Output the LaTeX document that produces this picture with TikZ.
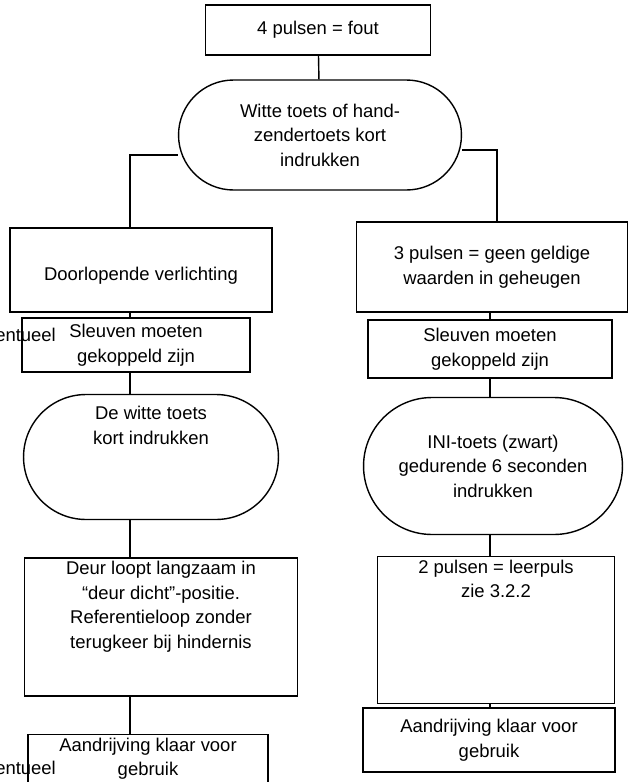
\documentclass[tikz,border=0pt]{standalone}
\usepackage{fontspec}
\setmainfont{Liberation Sans}
\usetikzlibrary{shapes.misc}
\begin{document}
\begin{tikzpicture}[x=0.02cm,y=-0.02cm,
  font=\fontsize{10.5}{14}\selectfont]
\tikzset{box/.style={rectangle, draw, thick, align=center, inner sep=2pt},
  pill/.style={rounded rectangle, draw, thick, align=center, inner sep=2pt},
  line/.style={draw, thick}}
\useasboundingbox (0,0) rectangle (642,782);
    % Place nodes
    \node [box, minimum width=4.5cm, minimum height=1cm] (fout) at (318,30) {4 pulsen = fout};
    \node [pill, minimum width=5.8cm, minimum height=2.2cm] (witte) at (320,135) {Witte toets of hand-\\zendertoets kort\\indrukken};
    \node [box, minimum width=5.24cm, minimum height=1.68cm] (verl) at (141,270) {\\Doorlopende verlichting};
    \node [box, minimum width=5.42cm, minimum height=1.8cm] (geen) at (492,267) {3 pulsen = geen geldige\\waarden in geheugen};
    \node [box, minimum width=4.56cm, minimum height=1.08cm] (sleufL) at (136,345) {Sleuven moeten\\gekoppeld zijn};
    \node [box, minimum width=4.88cm, minimum height=1.16cm] (sleufR) at (490,349) {Sleuven moeten\\gekoppeld zijn};
    \node [pill, minimum width=5.24cm, minimum height=2.5cm] (kortL) at (151,457) {De witte toets\\kort indrukken\\[4ex]};
    \node [pill, minimum width=5.32cm, minimum height=2.74cm] (ini) at (493,466) {INI-toets (zwart)\\gedurende 6 seconden\\indrukken};
    \node [box, minimum width=5.46cm, minimum height=2.5cm] (deur) at (161,627) {Deur loopt langzaam in\\``deur dicht''-positie.\\Referentieloop zonder\\terugkeer bij hindernis\\[2ex]};
    \node [box, minimum width=4.74cm, minimum height=2.48cm] (leer) at (496,630) {2 pulsen = leerpuls\\zie 3.2.2\\[8ex]};
    \node [box, minimum width=4.8cm, minimum height=1cm, text depth=6pt] (klaarL) at (148,762) {Aandrijving klaar voor\\gebruik};
    \node [box, minimum width=5.04cm, minimum height=1.28cm] (klaarR) at (489,740) {Aandrijving klaar voor\\gebruik};
    \node [anchor=east] (evt1) at (62,335) {eventueel};
    \node [anchor=east] (evt2) at (62,768) {eventueel};
    % Draw edges
    \path [line] (fout) -- (witte);
    \path [line] (witte.west |- 0,155) -| (verl.north -| 130,0);
    \path [line] (witte.east |- 0,150) -| (geen.north -| 497,0);
    \path [line] (verl.south -| 130,0) -- (sleufL.north -| 130,0);
    \path [line] (sleufL.south -| 130,0) -- (kortL.north -| 130,0);
    \path [line] (kortL.south -| 130,0) -- (deur.north -| 130,0);
    \path [line] (deur.south -| 130,0) -- (klaarL.north -| 130,0);
    \path [line] (geen.south -| 490,0) -- (sleufR.north -| 490,0);
    \path [line] (sleufR.south -| 490,0) -- (ini.north -| 490,0);
    \path [line] (ini.south -| 490,0) -- (leer.north -| 490,0);
    \path [line] (leer.south -| 490,0) -- (klaarR.north -| 490,0);
\end{tikzpicture}
\end{document}
